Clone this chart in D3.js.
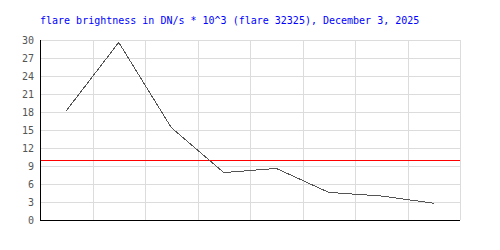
<!DOCTYPE html>
<html>
<head>
<meta charset="utf-8">
<script src="https://cdn.jsdelivr.net/npm/d3@7"></script>
<style>
  body { margin: 0; background: #fff; }
  svg text { font-family: "DejaVu Sans Mono", monospace; }
</style>
</head>
<body>
<div class="chart"></div>
<script>
var title = "flare brightness in DN/s * 10^3 (flare 32325), December 3, 2025";
var slots = [0, 1, 2, 3, 4, 5, 6, 7];
var brightness = [18.2, 29.6, 15.4, 7.9, 8.6, 4.6, 4.0, 2.8];
var yTicks = [0, 3, 6, 9, 12, 15, 18, 21, 24, 27, 30];
var threshold = 10;

var width = 500, height = 250;
var margin = {top: 40, right: 40, bottom: 30, left: 40};

var svg = d3.select(".chart").append("svg").attr("width", width).attr("height", height);

var x = d3.scaleBand().domain(slots).range([margin.left, width - margin.right]);
var y = d3.scaleLinear().domain([0, 30]).range([height - margin.bottom, margin.top]);

// grid
svg.append("g").selectAll("line.h").data(yTicks).enter().append("line")
  .attr("x1", margin.left).attr("x2", width - margin.right)
  .attr("y1", function(d) { return y(d) + 0.5; }).attr("y2", function(d) { return y(d) + 0.5; })
  .style("stroke", "#dcdcdc").style("stroke-width", 1);
svg.append("g").selectAll("line.v").data(slots.slice(1).concat(["end"])).enter().append("line")
  .attr("x1", function(d) { return Math.round(d === "end" ? x.range()[1] : x(d)) + 0.5; })
  .attr("x2", function(d) { return Math.round(d === "end" ? x.range()[1] : x(d)) + 0.5; })
  .attr("y1", margin.top).attr("y2", height - margin.bottom)
  .style("stroke", "#dcdcdc").style("stroke-width", 1);

// y axis labels
svg.append("g").selectAll("text").data(yTicks).enter().append("text")
  .attr("x", 34).attr("y", function(d) { return y(d) + 4; })
  .attr("text-anchor", "end").style("font-size", "10px").style("fill", "#555")
  .text(function(d) { return d; });

// threshold line
svg.append("line")
  .attr("x1", margin.left).attr("x2", width - margin.right)
  .attr("y1", y(threshold) + 0.5).attr("y2", y(threshold) + 0.5)
  .style("stroke", "#ff0000").style("stroke-width", 1);

// data line
var line = d3.line()
  .x(function(d, i) { return x(slots[i]) + x.bandwidth() / 2; })
  .y(function(d) { return y(d); });
svg.append("path").datum(brightness).attr("d", line)
  .style("fill", "none").style("stroke", "#555").style("stroke-width", 1)
  .style("shape-rendering", "crispEdges");

// axes
svg.append("line").attr("x1", margin.left + 0.5).attr("x2", margin.left + 0.5)
  .attr("y1", margin.top).attr("y2", height - margin.bottom + 1)
  .style("stroke", "#000").style("stroke-width", 1);
svg.append("line").attr("x1", margin.left).attr("x2", width - margin.right)
  .attr("y1", height - margin.bottom + 0.5).attr("y2", height - margin.bottom + 0.5)
  .style("stroke", "#000").style("stroke-width", 1);

// title
svg.append("text").attr("x", 40).attr("y", 24)
  .style("font-size", "10px").style("fill", "#0000ff")
  .text(title);
</script>
</body>
</html>
